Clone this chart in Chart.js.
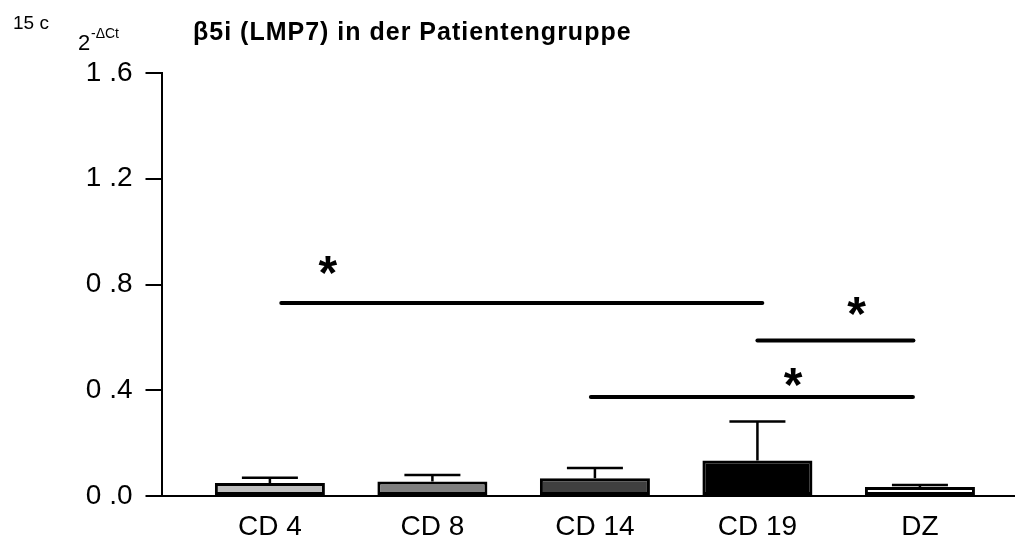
<!DOCTYPE html>
<html>
<head>
<meta charset="utf-8">
<script src="https://cdn.jsdelivr.net/npm/chart.js@4.4.1/dist/chart.umd.min.js"></script>
<style>
  html, body { margin: 0; padding: 0; background: #fff; }
  #wrap { width: 1015px; height: 539px; position: relative; }
</style>
</head>
<body>
<div id="wrap"><canvas id="chart" width="1015" height="539"></canvas></div>
<script>
// groups and measured 2^-dCt means with upper SEM
const groups = ['CD 4', 'CD 8', 'CD 14', 'CD 19', 'DZ'];
const means = [0.049, 0.055, 0.067, 0.134, 0.034];
const sem = [0.020, 0.024, 0.039, 0.148, 0.008];
const fills = ['#bebebe', '#7f7f7f', '#404040', '#000000', '#ffffff'];
const yTicks = [0, 0.4, 0.8, 1.2, 1.6];

// significance lines (x in group index units, y in axis units)
const sigFrom = [0.07, 3.0, 1.975];
const sigTo = [3.03, 3.96, 3.957];
const sigY = [0.73, 0.588, 0.374];
const starX = [0.357, 3.61, 3.22];
const starY = [0.875, 0.717, 0.452];

const FONT = '"Liberation Sans", Arial, sans-serif';
Chart.defaults.font.family = FONT;
Chart.defaults.color = '#000';

// error bars (upper only), significance lines, stars and header texts
const extras = {
    id: 'extras',
    afterDatasetsDraw(chart) {
        const ctx = chart.ctx;
        const x = chart.scales.x;
        const y = chart.scales.y;
        ctx.save();
        ctx.strokeStyle = '#000';
        ctx.lineWidth = 2.5;
        ctx.lineCap = 'butt';
        means.forEach((m, i) => {
            const px = x.getPixelForValue(i);
            const top = y.getPixelForValue(m + sem[i]);
            ctx.beginPath();
            ctx.moveTo(px, y.getPixelForValue(m));
            ctx.lineTo(px, top);
            ctx.moveTo(px - 28, top);
            ctx.lineTo(px + 28, top);
            ctx.stroke();
        });

        ctx.lineWidth = 4;
        ctx.lineCap = 'round';
        sigY.forEach((v, i) => {
            const py = y.getPixelForValue(v);
            ctx.beginPath();
            ctx.moveTo(x.getPixelForValue(sigFrom[i]), py);
            ctx.lineTo(x.getPixelForValue(sigTo[i]), py);
            ctx.stroke();
        });

        ctx.fillStyle = '#000';
        ctx.font = 'bold 48px ' + FONT;
        ctx.textAlign = 'center';
        ctx.textBaseline = 'alphabetic';
        const mt = ctx.measureText('*');
        const mid = (mt.actualBoundingBoxAscent - mt.actualBoundingBoxDescent) / 2;
        starX.forEach((sx, i) => {
            ctx.fillText('*', x.getPixelForValue(sx), y.getPixelForValue(starY[i]) + mid);
        });

        ctx.textAlign = 'left';
        ctx.font = '19px ' + FONT;
        ctx.fillText('15 c', 13, 29);
        ctx.font = '22px ' + FONT;
        ctx.fillText('2', 78, 50);
        ctx.font = '14px ' + FONT;
        ctx.fillText('-\u0394Ct', 91, 38);
        ctx.font = 'bold 25px ' + FONT;
        ctx.letterSpacing = '1px';
        ctx.fillText('\u03b25i (LMP7) in der Patientengruppe', 193, 40);
        ctx.restore();
    }
};

new Chart(document.getElementById('chart'), {
    type: 'bar',
    data: {
        datasets: [{
            data: means.map((m, i) => ({ x: i, y: m })),
            backgroundColor: fills,
            borderColor: '#000',
            borderWidth: 3,
            borderSkipped: false,
            barPercentage: 0.677,
            categoryPercentage: 1,
        }],
    },
    options: {
        responsive: false,
        animation: false,
        layout: { padding: { top: 73, left: 0, right: 0, bottom: 0 } },
        plugins: { legend: { display: false }, tooltip: { enabled: false } },
        scales: {
            x: {
                type: 'linear',
                offset: false,
                min: -0.667,
                max: 4.585,
                grid: { display: false, drawTicks: false },
                border: { display: true, color: '#000', width: 2 },
                afterBuildTicks: s => { s.ticks = groups.map((g, i) => ({ value: i })); },
                afterFit: s => { s.height = 43; },
                ticks: {
                    autoSkip: false,
                    maxRotation: 0,
                    padding: 14,
                    font: { size: 28 },
                    callback: v => groups[v],
                },
            },
            y: {
                min: 0,
                max: 1.6,
                afterBuildTicks: s => { s.ticks = yTicks.map(v => ({ value: v })); },
                afterFit: s => { s.width = 161.5; },
                grid: { drawOnChartArea: false, tickLength: 16, lineWidth: 2, color: '#000' },
                border: { display: true, color: '#000', width: 2 },
                ticks: {
                    padding: 13,
                    font: { size: 28 },
                    callback: v => v.toFixed(1).replace('.', ' .'),
                },
            },
        },
    },
    plugins: [extras],
});
</script>
</body>
</html>
